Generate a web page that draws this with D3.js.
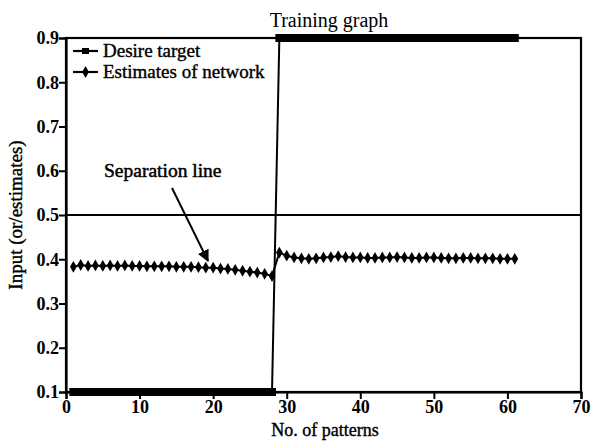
<!DOCTYPE html>
<html><head><meta charset="utf-8">
<script src="https://cdn.jsdelivr.net/npm/d3@7"></script>
<style>body{margin:0;background:#fff}svg{display:block}</style>
</head><body><svg id="c" width="592" height="442"></svg>
<script>
const patterns = d3.range(1, 62);
const desireTarget = [0.1,0.1,0.1,0.1,0.1,0.1,0.1,0.1,0.1,0.1,0.1,0.1,0.1,0.1,0.1,0.1,0.1,0.1,0.1,0.1,0.1,0.1,0.1,0.1,0.1,0.1,0.1,0.1,
  0.9,0.9,0.9,0.9,0.9,0.9,0.9,0.9,0.9,0.9,0.9,0.9,0.9,0.9,0.9,0.9,0.9,0.9,0.9,0.9,0.9,0.9,0.9,0.9,0.9,0.9,0.9,0.9,0.9,0.9,0.9,0.9,0.9,0.9,0.9];
const estimates = [0.383,0.387,0.385,0.386,0.385,0.386,0.385,0.386,0.385,0.385,0.384,0.384,0.384,0.384,0.383,0.383,0.383,0.382,0.381,0.381,0.379,0.378,0.376,0.374,0.372,0.370,0.367,0.362,
  0.415,0.408,0.404,0.402,0.401,0.402,0.404,0.405,0.407,0.405,0.404,0.404,0.403,0.403,0.404,0.404,0.405,0.404,0.403,0.403,0.404,0.404,0.403,0.402,0.402,0.403,0.403,0.402,0.402,0.402,0.401,0.401,0.401];
const xTicks = [0,10,20,30,40,50,60,70];
const yTicks = [0.1,0.2,0.3,0.4,0.5,0.6,0.7,0.8,0.9];
const separation = 0.5;
const seriesNames = ["Desire target","Estimates of network"];

const FONT = '"Liberation Serif","Times New Roman",serif';
const svg = d3.select("#c");
const x = d3.scaleLinear().domain([0,70]).range([66,581]);
const y = d3.scaleLinear().domain([0.1,0.9]).range([392,38]);

// frame
svg.append("rect").attr("x",66).attr("y",38).attr("width",515).attr("height",354)
  .attr("fill","none").attr("stroke","#000").attr("stroke-width",2.2);

const xa = svg.append("g").attr("transform","translate(0,392)")
  .call(d3.axisBottom(x).tickValues(xTicks).tickSize(7).tickFormat(d3.format("d")));
const ya = svg.append("g").attr("transform","translate(66,0)")
  .call(d3.axisLeft(y).tickValues(yTicks).tickSize(7).tickFormat(d3.format(".1f")));
[xa,ya].forEach(a=>{
  a.attr("font-family",null);
  a.select(".domain").attr("stroke-width",2.2);
  a.selectAll(".tick line").attr("stroke-width",2);
  a.selectAll("text").style("font-family",FONT).attr("font-size",18).attr("font-weight","bold").attr("fill","#000");
});
xa.selectAll("text").attr("y",6).attr("dy","0.85em");
ya.selectAll("text").attr("dy","0.32em").attr("x",-7);

// separation line
svg.append("line").attr("x1",x(0)).attr("x2",x(70)).attr("y1",y(separation)).attr("y2",y(separation))
  .attr("stroke","#000").attr("stroke-width",2);

// desire target
const dt = patterns.map((p,i)=>[p,desireTarget[i]]);
svg.append("path").attr("d",d3.line().x(d=>x(d[0])).y(d=>y(d[1]))(dt))
  .attr("fill","none").attr("stroke","#000").attr("stroke-width",2);
svg.append("g").selectAll("rect").data(dt).join("rect")
  .attr("x",d=>x(d[0])-4).attr("y",d=>y(d[1])-4).attr("width",8).attr("height",8).attr("fill","#000");

// estimates
const es = patterns.map((p,i)=>[p,estimates[i]]);
svg.append("path").attr("d",d3.line().x(d=>x(d[0])).y(d=>y(d[1]))(es))
  .attr("fill","none").attr("stroke","#000").attr("stroke-width",2);
const diamond = d3.symbol().type(d3.symbolDiamond).size(40);
svg.append("g").selectAll("path").data(es).join("path")
  .attr("transform",d=>`translate(${x(d[0])},${y(d[1])})`).attr("d",diamond).attr("fill","#000");

// legend
const lg = svg.append("g");
seriesNames.forEach((n,i)=>{
  const yy = 51 + i*21;
  lg.append("line").attr("x1",73).attr("x2",98).attr("y1",yy).attr("y2",yy).attr("stroke","#000").attr("stroke-width",2.2);
  if(i===0) lg.append("rect").attr("x",82).attr("y",yy-3).attr("width",7).attr("height",6).attr("fill","#000");
  else lg.append("path").attr("transform",`translate(85.5,${yy})`).attr("d",diamond).attr("fill","#000");
  lg.append("text").style("font-family",FONT).attr("x",103).attr("y",yy).attr("dy","0.3em").attr("font-size",19)
    .attr("fill","#000").attr("stroke","#000").attr("stroke-width",0.4).text(n);
});

// title & labels
svg.append("text").style("font-family",FONT).attr("x",329).attr("y",27).attr("text-anchor","middle")
  .attr("font-size",20).attr("fill","#000").text("Training graph");
svg.append("text").style("font-family",FONT).attr("x",325).attr("y",436).attr("text-anchor","middle")
  .attr("font-size",18).attr("fill","#000").attr("stroke","#000").attr("stroke-width",0.4).text("No. of patterns");
svg.append("text").style("font-family",FONT).attr("transform","translate(22,215) rotate(-90)").attr("text-anchor","middle")
  .attr("font-size",19).attr("fill","#000").attr("stroke","#000").attr("stroke-width",0.4).text("Input (or/estimates)");

// annotation
svg.append("text").style("font-family",FONT).attr("x",104).attr("y",177).attr("font-size",19.5)
  .attr("fill","#000").attr("stroke","#000").attr("stroke-width",0.5).text("Separation line");
svg.append("defs").append("marker").attr("id","ah").attr("viewBox","0 0 10 10").attr("refX",9).attr("refY",5)
  .attr("markerWidth",6).attr("markerHeight",6).attr("orient","auto")
  .append("path").attr("d","M0,0L10,5L0,10z").attr("fill","#000");
svg.append("line").attr("x1",172).attr("y1",188).attr("x2",208).attr("y2",261)
  .attr("stroke","#000").attr("stroke-width",2).attr("marker-end","url(#ah)");
</script></body></html>
